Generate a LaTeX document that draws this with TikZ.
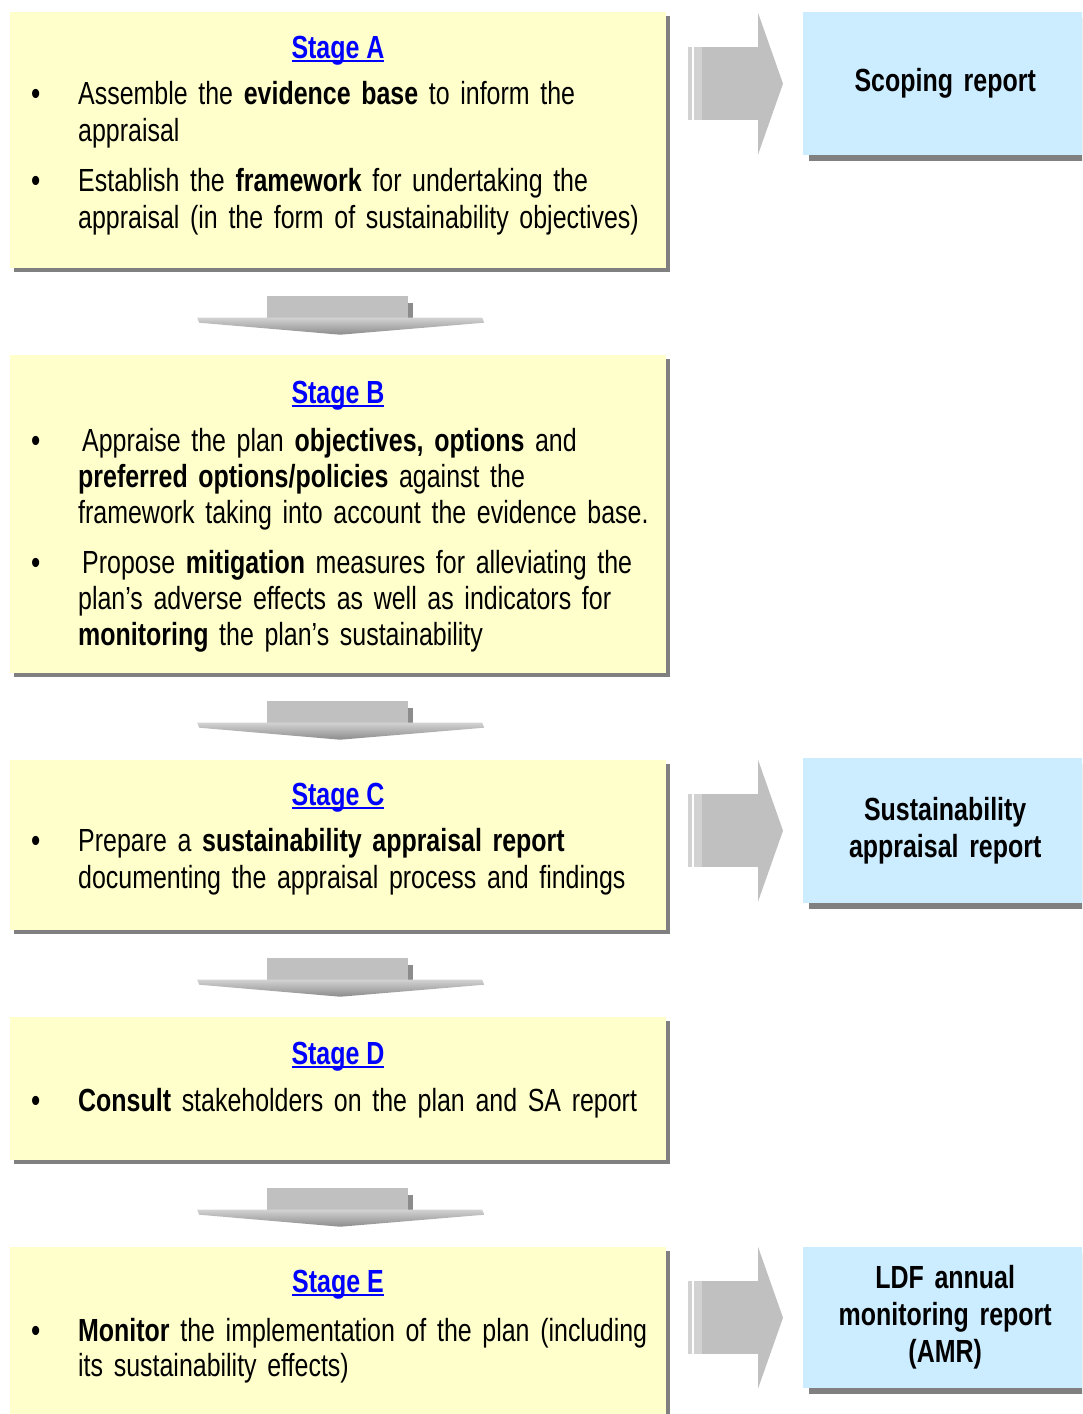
\documentclass[tikz,border=0pt]{standalone}
\usepackage{fontspec}
\setmainfont[FakeStretch=0.78]{Liberation Sans}
\usepackage{tikz}
\usetikzlibrary{calc, shadows}

\definecolor{stagefill}{HTML}{FFFFCC}
\definecolor{reportfill}{HTML}{CCECFF}
\definecolor{shadowgray}{HTML}{808080}
\definecolor{arrowgray}{HTML}{C0C0C0}
\definecolor{stripegray}{HTML}{D2D2D2}
\definecolor{sidegray}{HTML}{8C8C8C}
\definecolor{linkblue}{HTML}{0000FF}

% underlined link title
\newcommand{\linkul}[1]{\setbox0\hbox{#1}\rlap{\rule[-4pt]{\wd0}{2pt}}\box0}
% bullet hung left of the text
\newcommand{\stagebullet}{\llap{\textbf{\textbullet}\hspace{38pt}}}
% body font
\newcommand{\stagefont}[1]{\fontsize{32}{#1}\selectfont}

\tikzset{
  stagebox/.style={fill=stagefill, anchor=north west, minimum width=656, inner sep=0pt,
    drop shadow={shadow xshift=4pt, shadow yshift=-4pt, fill=shadowgray, opacity=1}},
  reportbox/.style={fill=reportfill, anchor=north west, minimum width=284, text width=270,
    align=center, inner sep=0pt, font=\bfseries\stagefont{37},
    drop shadow={shadow xshift=6pt, shadow yshift=-6pt, fill=shadowgray, opacity=1}},
  stagetitle/.style={anchor=base, inner sep=0pt, text=linkblue,
    font=\bfseries\stagefont{37}},
  stagetext/.style={anchor=base west, inner sep=0pt, text width=600, align=left,
    font=\stagefont{37}},
}

\begin{document}
\begin{tikzpicture}[x=1pt, y=-1pt]
  \useasboundingbox (0,0) rectangle (1082,1414);
  \fill[white] (0,0) rectangle (1082,1414);
  \clip (0,0) rectangle (1082,1414);

  % Stage boxes
  \node[stagebox, minimum height=256] (stageA) at (10,12) {};
  \node[stagebox, minimum height=318] (stageB) at (10,355) {};
  \node[stagebox, minimum height=170] (stageC) at (10,760) {};
  \node[stagebox, minimum height=143] (stageD) at (10,1017) {};
  \node[stagebox, minimum height=220] (stageE) at (10,1247) {};

  % Report boxes
  \node[reportbox, minimum height=143] (scoping) at (803,12) {Scoping report};
  \node[reportbox, minimum height=145] (sareport) at (803,758) {Sustainability\\appraisal report};
  \node[reportbox, minimum height=141] (amr) at (803,1247) {LDF annual\\monitoring report\\(AMR)};

  % Stage A
  \node[stagetitle] (titleA) at (338,58) {\linkul{Stage A}};
  \node[stagetext] (itemA1) at (78,104) {\stagebullet Assemble the \textbf{evidence base} to inform the\\appraisal};
  \node[stagetext] (itemA2) at (78,191) {\stagebullet Establish the \textbf{framework} for undertaking the\\appraisal (in the form of sustainability objectives)};

  % Stage B
  \node[stagetitle] (titleB) at (338,403) {\linkul{Stage B}};
  \node[stagetext, font=\stagefont{36}] (itemB1) at (78,451) {\stagebullet\hspace{4pt}Appraise the plan \textbf{objectives, options} and\\\textbf{preferred options/policies} against the\\framework taking into account the evidence base.};
  \node[stagetext, font=\stagefont{36}] (itemB2) at (78,573) {\stagebullet\hspace{4pt}Propose \textbf{mitigation} measures for alleviating the\\plan's adverse effects as well as indicators for\\\textbf{monitoring} the plan's sustainability};

  % Stage C
  \node[stagetitle] (titleC) at (338,805) {\linkul{Stage C}};
  \node[stagetext] (itemC1) at (78,851) {\stagebullet Prepare a \textbf{sustainability appraisal report}\\documenting the appraisal process and findings};

  % Stage D
  \node[stagetitle] (titleD) at (338,1064) {\linkul{Stage D}};
  \node[stagetext] (itemD1) at (78,1111) {\stagebullet\textbf{Consult} stakeholders on the plan and SA report};

  % Stage E
  \node[stagetitle] (titleE) at (338,1292) {\linkul{Stage E}};
  \node[stagetext, font=\stagefont{35}] (itemE1) at (78,1341) {\stagebullet\textbf{Monitor} the implementation of the plan (including\\its sustainability effects)};

  % Block arrows to the reports
  \foreach \r in {scoping, sareport, amr} {
    \begin{scope}[shift={(\r.west)}]
      \fill[stripegray] (-115,-36.5) rectangle (-111,36.5);
      \fill[stripegray] (-109,-36.5) rectangle (-101,36.5);
      \fill[arrowgray] (-101,-36.5) rectangle (-45,36.5);
      \fill[arrowgray] (-45,-71) -- (-20,0) -- (-45,71) -- cycle;
    \end{scope}
  }

  % Block arrows between stages
  \foreach \sa/\sb in {stageA/stageB, stageB/stageC, stageC/stageD, stageD/stageE} {
    \begin{scope}[shift={($(\sa.south)!0.5!(\sb.north)$)}]
      \fill[arrowgray] (-71,-16) rectangle (70,10);
      \fill[sidegray] (70,-9) rectangle (75,8);
      \shade[top color=stripegray, bottom color=sidegray] (-141,6) -- (144,6) -- (146,11) -- (2,23) -- (-139,11) -- cycle;
    \end{scope}
  }
\end{tikzpicture}
\end{document}
